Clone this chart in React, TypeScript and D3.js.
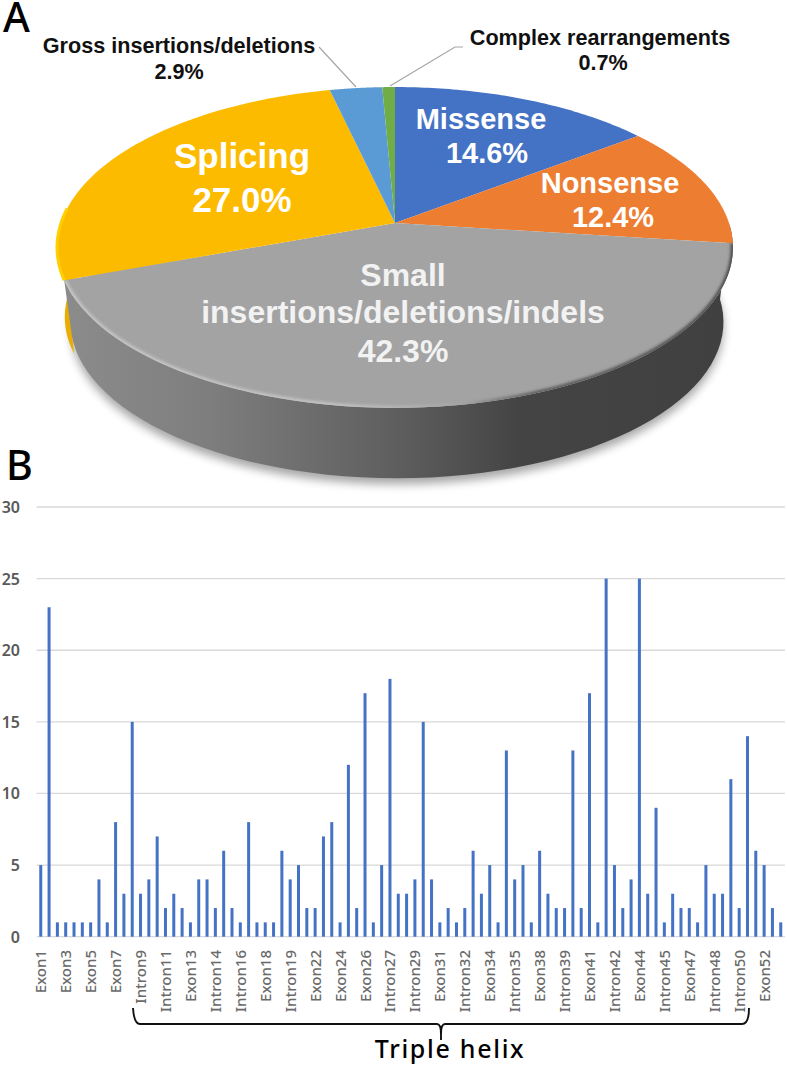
import React, { useMemo } from "react";
import * as d3 from "d3";

const sliceNames = ["Missense", "Nonsense", "Small", "Splicing", "Gross", "Complex"];
const sliceValues = [14.6, 12.4, 42.3, 27.0, 2.9, 0.7];
const sliceColors = ["#4472c4", "#ed7d31", "#a3a3a3", "#fdbb00", "#5b9bd5", "#70ad47"];

const barValues = [
  5, 23, 1, 1, 1, 1, 1, 4, 1, 8, 3, 15, 3, 4, 7, 2, 3, 2, 1, 4, 4, 2, 6, 2, 1, 8, 1, 1, 1, 6,
  4, 5, 2, 2, 7, 8, 1, 12, 2, 17, 1, 5, 18, 3, 3, 4, 15, 4, 1, 2, 1, 2, 6, 3, 5, 1, 13, 4, 5, 1,
  6, 3, 2, 2, 13, 2, 17, 1, 25, 5, 2, 4, 25, 3, 9, 1, 3, 2, 2, 1, 5, 3, 3, 11, 2, 14, 6, 5, 2, 1,
];
const tickLabels = [
  "Exon1", "Exon3", "Exon5", "Exon7", "Intron9", "Intron11", "Exon13", "Intron14", "Intron16", "Exon18",
  "Intron19", "Exon22", "Exon24", "Exon26", "Intron27", "Intron29", "Exon31", "Intron32", "Exon34", "Intron35",
  "Exon38", "Intron39", "Exon41", "Intron42", "Exon44", "Intron45", "Exon47", "Intron48", "Intron50", "Exon52",
];
const yTicks = [0, 5, 10, 15, 20, 25, 30];

const CX = 395, CY = 223, A = 334, B = 156.7, K = 0.1525;
const project = (t: number, sx = 1, sy = 1, dy = 0, dx = 0): [number, number] => {
  const u = Math.sin(t), v = -Math.cos(t), w = 1 - K * v;
  return [CX + dx + (sx * A * u) / w, CY + dy + (sy * B * v) / w];
};
const line = d3.line();
const arcPoints = (a0: number, a1: number, sx = 1, sy = 1, dy = 0, dx = 0) =>
  d3.range(0, 65).map((i) => project(a0 + ((a1 - a0) * i) / 64, sx, sy, dy, dx));
const WALL = { sx: 0.966, sy: 0.975, dy: 75, dx: 2 };
const GOLD_WALL = { sx: 0.98, sy: 0.975, dy: 70, dx: 1 };

export default function App() {
  const arcs = useMemo(() => d3.pie<number>().sort(null)(sliceValues), []);
  const y = d3.scaleLinear().domain([0, 30]).range([936.7, 507]);
  const x = d3.scaleBand<number>().domain(d3.range(barValues.length)).range([36.6, 784.9]).paddingInner(0.64).paddingOuter(0.32);
  const xc = (i: number) => (x(i) as number) + x.bandwidth() / 2;

  const face = (a0: number, a1: number) => line([[CX, CY], ...arcPoints(a0, a1)]) + "Z";
  const smallArc = arcs[2];
  const wallStart = arcs[1].endAngle - 0.12;
  const wallBottomEnd = Math.PI * 1.44;
  const wallPath = line([
    ...arcPoints(wallStart, smallArc.endAngle),
    ...arcPoints(wallStart, wallBottomEnd, WALL.sx, WALL.sy, WALL.dy, WALL.dx).reverse(),
  ]) + "Z";
  const goldEnd = Math.PI * 1.53;
  const goldWall = line([
    ...arcPoints(smallArc.endAngle - 0.03, goldEnd),
    ...arcPoints(smallArc.endAngle - 0.03, goldEnd, GOLD_WALL.sx, GOLD_WALL.sy, GOLD_WALL.dy, GOLD_WALL.dx).reverse(),
  ]) + "Z";

  const sans = "'Liberation Sans', Arial, sans-serif";
  const noto = "'Noto Sans', sans-serif";
  const white = { fill: "#fff", fontFamily: sans, fontWeight: 700, textAnchor: "middle" as const };

  return (
    <svg width={787} height={1066} viewBox="0 0 787 1066"
      style={{ position: "absolute", left: 0, top: 0, background: "#fff" }}>
      <defs>
        <linearGradient id="wall" gradientUnits="userSpaceOnUse" x1={60} x2={735} y1={0} y2={0}>
          <stop offset="0" stopColor="#8c8c8c" />
          <stop offset="0.22" stopColor="#7e7e7e" />
          <stop offset="0.5" stopColor="#5e5e5e" />
          <stop offset="0.68" stopColor="#444444" />
          <stop offset="1" stopColor="#404040" />
        </linearGradient>
        <linearGradient id="rim" gradientUnits="userSpaceOnUse" x1={60} x2={735} y1={0} y2={0}>
          <stop offset="0" stopColor="#c8c8c8" />
          <stop offset="0.42" stopColor="#c4c4c4" />
          <stop offset="0.6" stopColor="#a3a3a3" />
          <stop offset="0.7" stopColor="#5a5a5a" />
          <stop offset="1" stopColor="#4a4a4a" />
        </linearGradient>
        <filter id="shadow" x="-10%" y="-10%" width="120%" height="130%">
          <feGaussianBlur stdDeviation="5" />
        </filter>
        <filter id="soft" x="-10%" y="-10%" width="120%" height="120%">
          <feGaussianBlur stdDeviation="1.4" />
        </filter>
        <clipPath id="smallClip">
          <path d={face(smallArc.startAngle, smallArc.endAngle)} />
        </clipPath>
      </defs>

      {/* Panel A */}
      <path d={line(arcPoints(Math.PI * 0.4, Math.PI * 1.6, WALL.sx, WALL.sy, WALL.dy + 6, WALL.dx)) + "Z"} fill="#000" opacity={0.35} filter="url(#shadow)" />
      <path d={goldWall} fill="#e9ad00" />
      <path d={wallPath} fill="url(#wall)" />
      {arcs.map((a, i) => (
        <path key={sliceNames[i]} d={face(a.startAngle, a.endAngle)} fill={sliceColors[i]} />
      ))}
      <g clipPath="url(#smallClip)">
        <path d={line(arcPoints(smallArc.startAngle, smallArc.endAngle))} fill="none" stroke="url(#rim)" strokeWidth={4.5} filter="url(#soft)" />
      </g>
      <path d={line(arcPoints(smallArc.endAngle, Math.PI * 1.53))} fill="none" stroke="#ffd000" strokeWidth={3} />

      <polyline points="319,47 356,87" fill="none" stroke="#a6a6a6" strokeWidth={1.2} />
      <polyline points="463,47 455,47 390,86" fill="none" stroke="#a6a6a6" strokeWidth={1.2} />

      <text x={3} y={32} fontFamily={noto} fontWeight={500} fontSize={41} fill="#000">A</text>
      <text x={6} y={480} fontFamily={noto} fontWeight={500} fontSize={41} fill="#000">B</text>

      <g fontFamily={sans} fontWeight={700} fontSize={21.6} fill="#111" textAnchor="middle">
        <text x={179} y={53}>Gross insertions/deletions</text>
        <text x={179} y={79}>2.9%</text>
        <text x={600} y={45}>Complex rearrangements</text>
        <text x={603} y={70}>0.7%</text>
      </g>

      <g {...white} fontSize={29}>
        <text x={481} y={129}>Missense</text>
        <text x={487} y={163}>14.6%</text>
        <text x={610} y={193}>Nonsense</text>
        <text x={613} y={227}>12.4%</text>
      </g>
      <g {...white} fontSize={35}>
        <text x={242} y={168}>Splicing</text>
        <text x={242} y={212}>27.0%</text>
      </g>
      <g {...white} fontSize={32} fill="#f2f2f2">
        <text x={403} y={286}>Small</text>
        <text x={403} y={323}>insertions/deletions/indels</text>
        <text x={403} y={362}>42.3%</text>
      </g>

      {/* Panel B */}
      {yTicks.map((t) => (
        <g key={t}>
          <line x1={36.6} x2={784.9} y1={y(t)} y2={y(t)} stroke="#d9d9d9" strokeWidth={1.3} />
          <text x={20} y={y(t) + 6} textAnchor="end" fontFamily={noto} fontWeight={600} fontSize={16} fill="#595959">{t}</text>
        </g>
      ))}
      {barValues.map((v, i) => (
        <rect key={i} x={x(i)} width={x.bandwidth()} y={y(v)} height={y(0) - y(v)} fill="#4472c4" />
      ))}
      {tickLabels.map((l, i) => (
        <text key={l} transform={`translate(${xc(i * 3) + 5.5},950) rotate(-90)`} textAnchor="end"
          fontFamily={noto} fontWeight={500} fontSize={15} fill="#6a6a6a">{l}</text>
      ))}

      <path d="M133,1008 Q134,1024 140,1024 L437,1024 Q441,1024 441,1034 Q441,1024 445,1024 L742,1024 Q749,1024 749,1008"
        fill="none" stroke="#111" strokeWidth={1.9} />
      <line x1={441} x2={441} y1={1026} y2={1040} stroke="#111" strokeWidth={1.9} />
      <text x={450} y={1058} textAnchor="middle" fontFamily={noto} fontWeight={500} fontSize={25} letterSpacing={1.7} fill="#000">Triple helix</text>
    </svg>
  );
}
